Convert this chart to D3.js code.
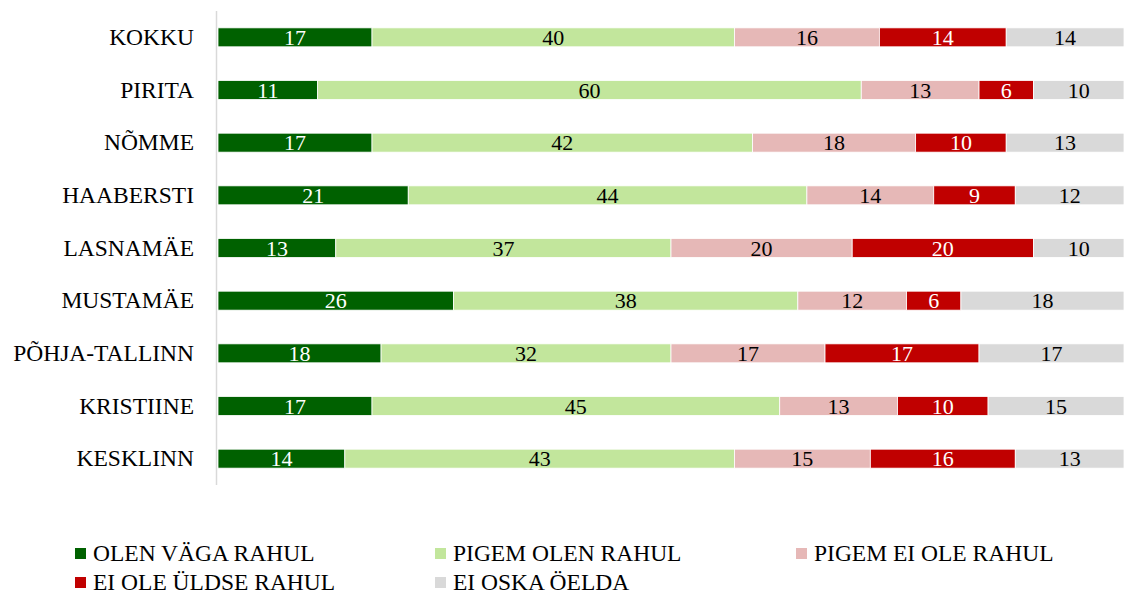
<!DOCTYPE html>
<html>
<head>
<meta charset="utf-8">
<script src="https://cdn.jsdelivr.net/npm/d3@7"></script>
<style>
  body { margin: 0; background: #fff; }
</style>
</head>
<body>
<div id="chart"></div>
<script>
// categories (top to bottom)
var districts = ["KOKKU", "PIRITA", "NÕMME", "HAABERSTI", "LASNAMÄE",
                 "MUSTAMÄE", "PÕHJA-TALLINN", "KRISTIINE", "KESKLINN"];

// series
var seriesNames = ["OLEN VÄGA RAHUL", "PIGEM OLEN RAHUL", "PIGEM EI OLE RAHUL",
                   "EI OLE ÜLDSE RAHUL", "EI OSKA ÖELDA"];
var seriesColors = ["#006100", "#c2e69c", "#e6b8b7", "#c00000", "#d9d9d9"];
var labelColors = ["#fff", "#000", "#000", "#fff", "#000"];

var veryHappy   = [17, 11, 17, 21, 13, 26, 18, 17, 14];
var ratherHappy = [40, 60, 42, 44, 37, 38, 32, 45, 43];
var ratherNot   = [16, 13, 18, 14, 20, 12, 17, 13, 15];
var notAtAll    = [14,  6, 10,  9, 20,  6, 17, 10, 16];
var dontKnow    = [14, 10, 13, 12, 10, 18, 17, 15, 13];

var seriesValues = [veryHappy, ratherHappy, ratherNot, notAtAll, dontKnow];

var serif = "'Liberation Serif', 'Times New Roman', serif";

// build rows for d3.stack
var rows = districts.map(function(d, i) {
    var row = { district: d };
    seriesNames.forEach(function(s, j) { row[s] = seriesValues[j][i]; });
    return row;
});

var svgWidth = 1125;
var svgHeight = 595;

var svg = d3.select("#chart")
    .append("svg")
    .attr("width", svgWidth)
    .attr("height", svgHeight)
    .attr("font-family", serif);

// scales - percent axis, rounded values can add up to 101 so clamp at 100
var xScale = d3.scaleLinear()
    .domain([0, 100])
    .range([218, 1124])
    .clamp(true);

var yScale = d3.scaleBand()
    .domain(districts)
    .range([11, 485])
    .paddingInner(0.64)
    .paddingOuter(0.32);

var stacked = d3.stack()
    .keys(seriesNames)(rows);

// vertical axis line
svg.append("line")
    .attr("x1", 216.5).attr("x2", 216.5)
    .attr("y1", 11).attr("y2", 485)
    .attr("stroke", "#d9d9d9")
    .attr("stroke-width", 1.5);

// category labels
var leftAxis = d3.axisLeft(yScale).tickSize(0).tickPadding(0);
var yAxis = svg.append("g")
    .attr("transform", "translate(194,0)")
    .call(leftAxis);
yAxis.select(".domain").remove();
yAxis.selectAll("text")
    .attr("fill", "#000")
    .style("font-family", serif)
    .style("font-size", "23.5px");

// bars
var layers = svg.selectAll("g.layer")
    .data(stacked)
    .enter()
    .append("g")
    .attr("class", "layer")
    .attr("fill", (d, i) => seriesColors[i]);

layers.selectAll("rect")
    .data(d => d)
    .enter()
    .append("rect")
    .attr("x", d => xScale(d[0]))
    .attr("y", d => yScale(d.data.district))
    .attr("width", d => xScale(d[1]) - xScale(d[0]))
    .attr("height", yScale.bandwidth())
    .attr("stroke", "#fff")
    .attr("stroke-width", 0.8);

// value labels
layers.each(function(layer, i) {
    d3.select(this).selectAll("text")
        .data(layer)
        .enter()
        .append("text")
        .attr("x", d => (xScale(d[0]) + xScale(d[1])) / 2)
        .attr("y", d => yScale(d.data.district) + yScale.bandwidth() / 2)
        .attr("dy", "0.35em")
        .attr("text-anchor", "middle")
        .style("font-family", serif)
        .style("font-size", "22px")
        .attr("fill", labelColors[i])
        .text(d => d.data[layer.key]);
});

// legend
var legendPos = [[75, 553], [435, 553], [796, 553], [75, 582], [435, 582]];
var legend = svg.selectAll("g.legend")
    .data(seriesNames)
    .enter()
    .append("g")
    .attr("class", "legend")
    .attr("transform", (d, i) => `translate(${legendPos[i][0]}, ${legendPos[i][1]})`);

legend.append("rect")
    .attr("x", 0).attr("y", -5)
    .attr("width", 11).attr("height", 11)
    .attr("fill", (d, i) => seriesColors[i]);

legend.append("text")
    .attr("x", 18)
    .attr("y", 0)
    .attr("dy", "0.35em")
    .style("font-family", serif)
    .style("font-size", "23.5px")
    .attr("fill", "#000")
    .text(d => d);
</script>
</body>
</html>
